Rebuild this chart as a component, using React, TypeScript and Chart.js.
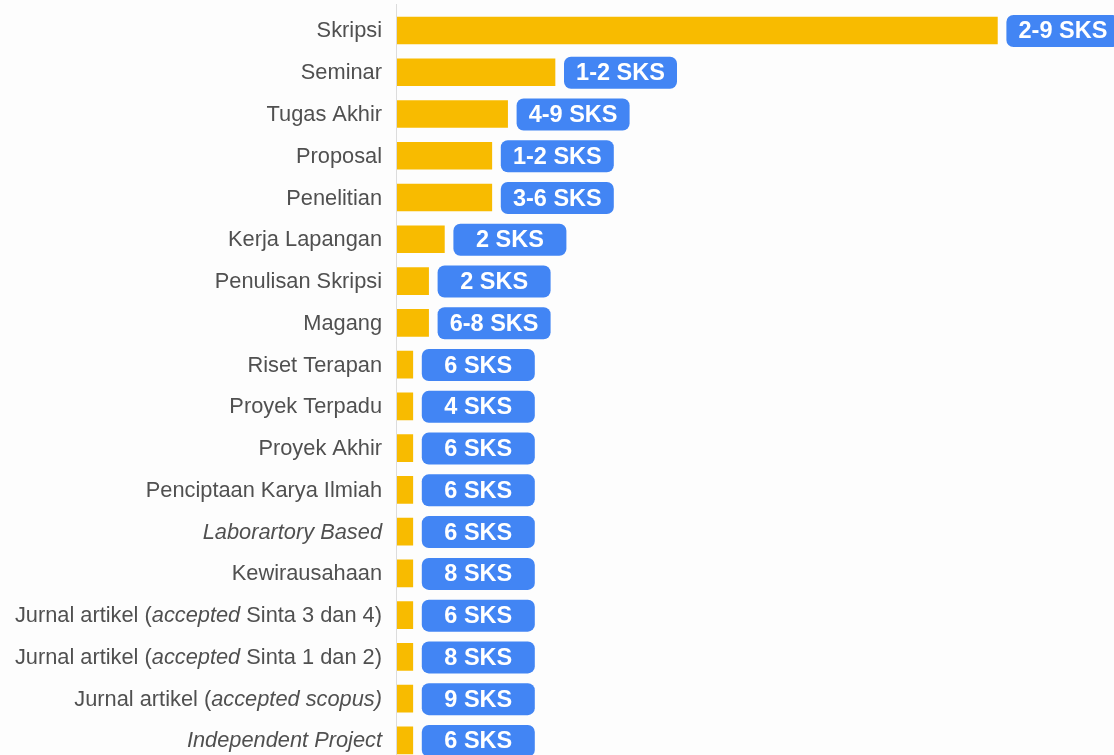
import React, { useEffect, useRef } from "react";
import { Chart, registerables } from "chart.js";

Chart.register(...registerables);

// Category labels; text between underscores is italic
const categories: string[] = [
  "Skripsi",
  "Seminar",
  "Tugas Akhir",
  "Proposal",
  "Penelitian",
  "Kerja Lapangan",
  "Penulisan Skripsi",
  "Magang",
  "Riset Terapan",
  "Proyek Terpadu",
  "Proyek Akhir",
  "Penciptaan Karya Ilmiah",
  "_Laborartory Based_",
  "Kewirausahaan",
  "Jurnal artikel (_accepted_ Sinta 3 dan 4)",
  "Jurnal artikel (_accepted_ Sinta 1 dan 2)",
  "Jurnal artikel (_accepted scopus)_",
  "_Independent Project_",
];

const counts: number[] = [38, 10, 7, 6, 6, 3, 2, 2, 1, 1, 1, 1, 1, 1, 1, 1, 1, 1];

const sksLabels: string[] = [
  "2-9 SKS",
  "1-2 SKS",
  "4-9 SKS",
  "1-2 SKS",
  "3-6 SKS",
  "2 SKS",
  "2 SKS",
  "6-8 SKS",
  "6 SKS",
  "4 SKS",
  "6 SKS",
  "6 SKS",
  "6 SKS",
  "8 SKS",
  "6 SKS",
  "8 SKS",
  "9 SKS",
  "6 SKS",
];

const FONT = '"Liberation Sans", Arial, sans-serif';
const BAR_COLOR = "#F8BB00";
const BOX_COLOR = "#4285F4";
const TEXT_COLOR = "#505050";
const LABEL_SIZE = 21.8;
const BOX_TEXT_SIZE = 23.5;

function parseSegments(label: string): { text: string; italic: boolean }[] {
  const parts = label.split("_");
  return parts
    .map((t, i) => ({ text: t, italic: i % 2 === 1 }))
    .filter((s) => s.text.length > 0);
}

const labelsPlugin = {
  id: "customLabels",
  afterDatasetsDraw(chart: any) {
    const ctx: CanvasRenderingContext2D = chart.ctx;
    const meta = chart.getDatasetMeta(0);
    const yScale = chart.scales.y;
    ctx.save();
    // axis line
    ctx.strokeStyle = "#dcdcdc";
    ctx.lineWidth = 1;
    ctx.beginPath();
    ctx.moveTo(396.5, 4);
    ctx.lineTo(396.5, chart.height);
    ctx.stroke();

    // category labels (mixed italic)
    ctx.textBaseline = "middle";
    ctx.fillStyle = TEXT_COLOR;
    const rightX = 382;
    categories.forEach((label, i) => {
      const y = yScale.getPixelForValue(i);
      const segs = parseSegments(label);
      const widths = segs.map((s) => {
        ctx.font = `${s.italic ? "italic " : ""}${LABEL_SIZE}px ${FONT}`;
        return ctx.measureText(s.text).width;
      });
      let x = rightX;
      for (let k = segs.length - 1; k >= 0; k--) {
        x -= widths[k];
        ctx.font = `${segs[k].italic ? "italic " : ""}${LABEL_SIZE}px ${FONT}`;
        ctx.textAlign = "left";
        ctx.fillText(segs[k].text, x, y + 1);
      }
    });

    // SKS boxes
    meta.data.forEach((bar: any, i: number) => {
      const bx = bar.x + 9;
      const by = bar.y + 0.5;
      const w = 113;
      const h = 32;
      ctx.fillStyle = BOX_COLOR;
      ctx.beginPath();
      (ctx as any).roundRect(bx, by - h / 2, w, h, 7);
      ctx.fill();
      ctx.fillStyle = "#ffffff";
      ctx.font = `bold ${BOX_TEXT_SIZE}px ${FONT}`;
      ctx.textAlign = "center";
      ctx.textBaseline = "middle";
      ctx.fillText(sksLabels[i], bx + w / 2, by + 1);
    });
    ctx.restore();
  },
};

export default function App() {
  const canvasRef = useRef<HTMLCanvasElement | null>(null);

  useEffect(() => {
    document.body.style.margin = "0";
    document.body.style.background = "#fdfdfd";
    const canvas = canvasRef.current;
    if (!canvas) return;
    const chart = new Chart(canvas, {
      type: "bar",
      data: {
        labels: categories,
        datasets: [
          {
            data: counts,
            backgroundColor: BAR_COLOR,
            barThickness: 27,
            borderWidth: 0,
          },
        ],
      },
      options: {
        indexAxis: "y",
        animation: false,
        responsive: false,
        layout: { padding: { left: 397, right: 6, top: 9.6, bottom: 8.7 } },
        plugins: {
          legend: { display: false },
          tooltip: { enabled: false },
        },
        scales: {
          x: { display: false, min: 0, max: 45 },
          y: { display: false },
        },
      },
      plugins: [labelsPlugin],
    });
    return () => chart.destroy();
  }, []);

  return (
    <div
      style={{
        position: "fixed",
        top: 0,
        left: 0,
        width: 1114,
        height: 755,
        overflow: "hidden",
        background: "#fdfdfd",
      }}
    >
      <canvas ref={canvasRef} width={1114} height={770} style={{ display: "block" }} />
    </div>
  );
}
